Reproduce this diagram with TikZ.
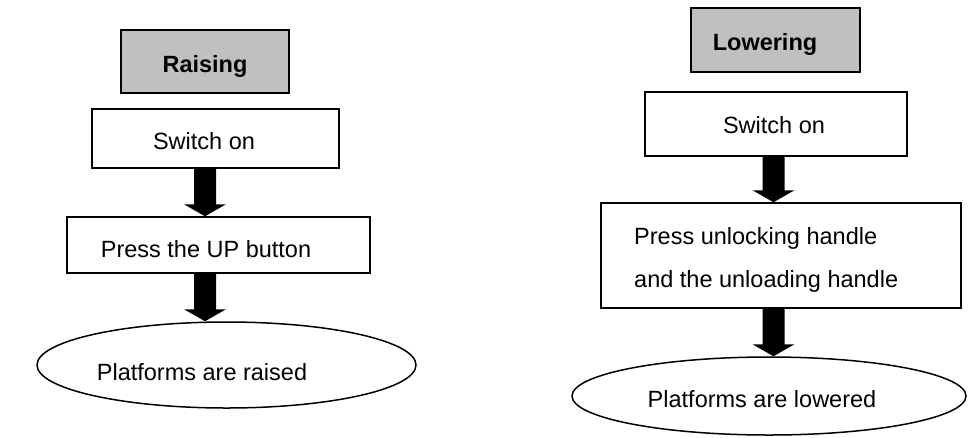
\documentclass[tikz,border=0pt]{standalone}
\usepackage{fontspec}
\setmainfont{Liberation Sans}
\usetikzlibrary{shapes.geometric,calc}
\newcommand{\blkarrow}[2]{%
  \fill ($(#1)+(-11,0)$) -- ($(#1)+(11,0)$) -- ($(#2)+(11,-12)$) -- ($(#2)+(21,-12)$)
    -- (#2) -- ($(#2)+(-21,-12)$) -- ($(#2)+(-11,-12)$) -- cycle;}
\begin{document}
\begin{tikzpicture}[x=1pt,y=-1pt,
  box/.style={draw, line width=1.5pt, rectangle, inner sep=0pt},
  headbox/.style={box, fill=headgray},
  oval/.style={draw, line width=1.5pt, ellipse, inner sep=0pt},
  txt/.style={inner sep=0pt, anchor=base, font=\fontsize{23.5}{28}\selectfont},
  txtl/.style={txt, anchor=base west},
  btxt/.style={txt, font=\fontsize{23.5}{28}\selectfont\bfseries}]
\definecolor{headgray}{HTML}{C0C0C0}
\useasboundingbox (0,0) rectangle (968,437);
\fill[white] (0,0) rectangle (968,437);
% left column
\node[headbox, minimum width=168pt, minimum height=63pt] (raise) at (205,61.5) {};
\node[btxt] (raiset) at (205,72) {Raising};
\node[box, minimum width=247pt, minimum height=59pt] (swa) at (215.5,138.5) {};
\node[txt] (swat) at (204,149) {Switch on};
\node[box, minimum width=303pt, minimum height=56pt] (up) at (218.5,245) {};
\node[txt] (upt) at (206,257) {Press the UP button};
\node[oval, minimum width=379pt, minimum height=86pt] (raised) at (226.5,365) {};
\node[txt] (raisedt) at (202,380) {Platforms are raised};
\coordinate (lx) at (205,0);
\blkarrow{swa.south -| lx}{up.north -| lx}
\blkarrow{up.south -| lx}{raised.north -| lx}
% right column
\node[headbox, minimum width=169pt, minimum height=64pt] (lower) at (775.5,40) {};
\node[btxt] (lowert) at (765,50) {Lowering};
\node[box, minimum width=262pt, minimum height=64pt] (swb) at (776,124) {};
\node[txt] (swbt) at (774,133) {Switch on};
\node[box, minimum width=360pt, minimum height=105pt] (unlock) at (781,255.5) {};
\node[txtl] (unlockt1) at (634,244) {Press unlocking handle};
\node[txtl] (unlockt2) at (634,287) {and the unloading handle};
\node[oval, minimum width=394pt, minimum height=78pt] (lowered) at (769,396) {};
\node[txt] (loweredt) at (762,407) {Platforms are lowered};
\coordinate (rx) at (773.5,0);
\blkarrow{swb.south -| rx}{unlock.north -| rx}
\blkarrow{unlock.south -| rx}{lowered.north -| rx}
\end{tikzpicture}
\end{document}
